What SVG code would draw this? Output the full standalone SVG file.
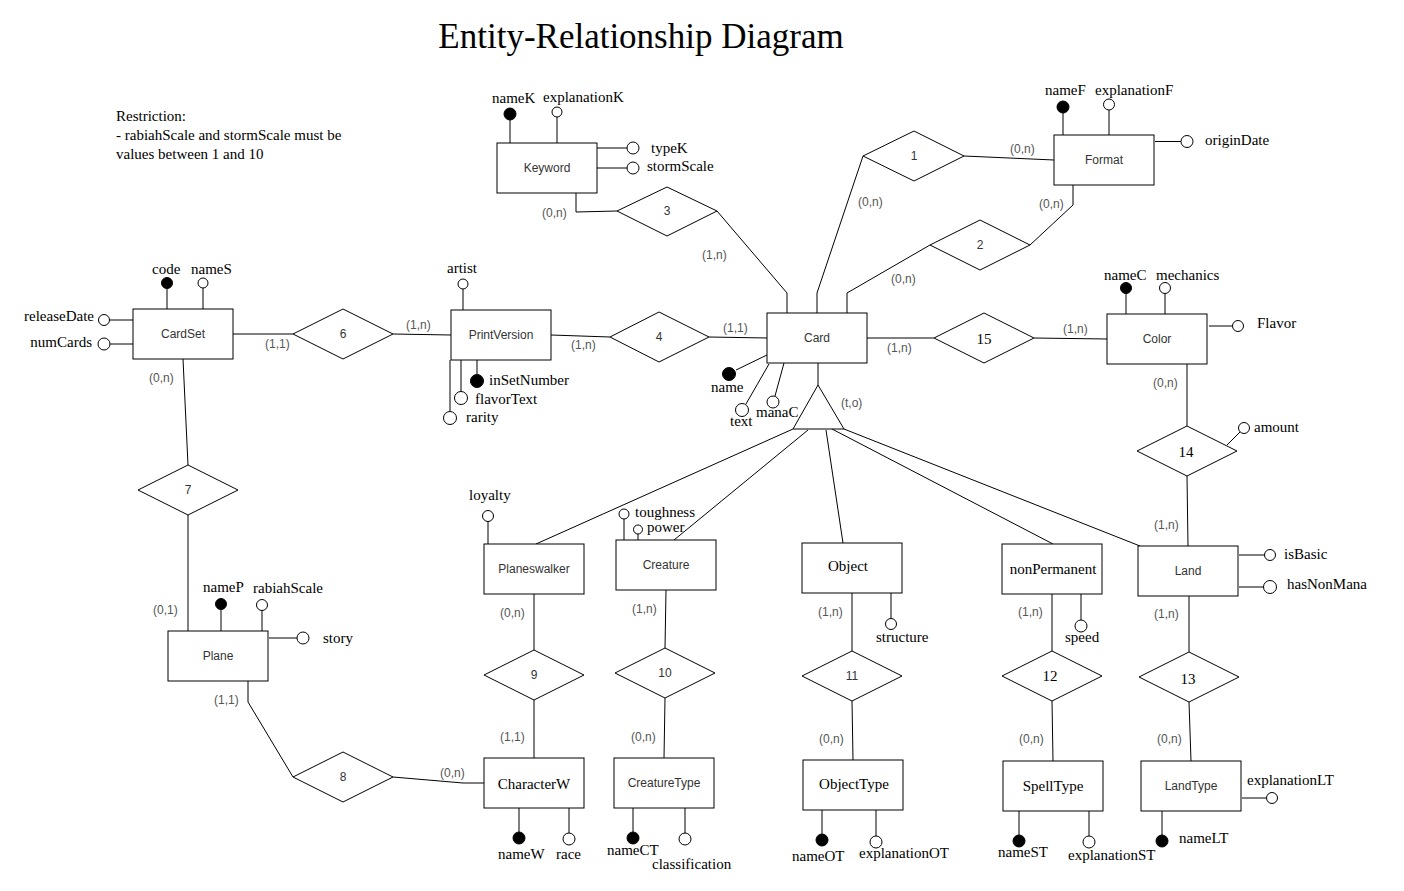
<svg xmlns="http://www.w3.org/2000/svg" width="1404" height="891" viewBox="0 0 1404 891">
<style>
.ent{fill:#fff;stroke:#000;stroke-width:1}
.rel{fill:#fff;stroke:#000;stroke-width:1}
.ln{fill:none;stroke:#000;stroke-width:1}
.oa{fill:#fff;stroke:#000;stroke-width:1}
.ka{fill:#000;stroke:#000;stroke-width:1}
.sl{font-family:"Liberation Sans",Arial,sans-serif;font-size:12px;fill:#333;text-anchor:middle}
.sf{font-family:"Liberation Serif","Times New Roman",serif;font-size:15px;fill:#000;text-anchor:middle}
.cd{font-family:"Liberation Sans",Arial,sans-serif;font-size:12px;fill:#555}
.at{font-family:"Liberation Serif","Times New Roman",serif;font-size:15px;fill:#000}
.rn{font-family:"Liberation Serif","Times New Roman",serif;font-size:15px;fill:#000;text-anchor:middle}
</style>
<rect width="1404" height="891" fill="#fff"/>
<text x="641" y="48" font-family="'Liberation Serif','Times New Roman',serif" font-size="35" text-anchor="middle" fill="#000">Entity-Relationship Diagram</text>
<g id="restriction">
<text class="at" x="116" y="121">Restriction:</text>
<text class="at" x="116" y="140">- rabiahScale and stormScale must be</text>
<text class="at" x="116" y="159">values between 1 and 10</text>
</g>

<g id="connectors">
<path class="ln" d="M233,334 L293,334"/>
<path class="ln" d="M393,334 L451,335"/>
<path class="ln" d="M551,335 L610,337"/>
<path class="ln" d="M709,337 L767,338"/>
<path class="ln" d="M867,338 L934,338"/>
<path class="ln" d="M1034,338 L1107,339"/>
<path class="ln" d="M576,193 L576,212 L617,211"/>
<path class="ln" d="M717,211 L787,293 L787,313"/>
<path class="ln" d="M817,313 L817,293 L863,156"/>
<path class="ln" d="M964,156 L1054,160"/>
<path class="ln" d="M1073,185 L1073,205 L1030,245"/>
<path class="ln" d="M930,245 L847,293 L847,313"/>
<path class="ln" d="M183,359 L188,465"/>
<path class="ln" d="M188,515 L188,631"/>
<path class="ln" d="M248,681 L248,702 L293,777"/>
<path class="ln" d="M393,777 L463,783 L484,783"/>
<path class="ln" d="M1187,364 L1187,426"/>
<path class="ln" d="M1187,476 L1188,546"/>
<path class="ln" d="M1189,596 L1189,652"/>
<path class="ln" d="M1189,702 L1191,761"/>
<path class="ln" d="M534,594 L534,650"/>
<path class="ln" d="M534,700 L534,758"/>
<path class="ln" d="M666,590 L665,648"/>
<path class="ln" d="M665,698 L664,758"/>
<path class="ln" d="M852,593 L852,651"/>
<path class="ln" d="M852,701 L853,760"/>
<path class="ln" d="M1052,594 L1052,651"/>
<path class="ln" d="M1052,701 L1053,761"/>
<path class="ln" d="M818,363 L818,385"/>
<path class="ln" d="M793,429 L536,544"/>
<path class="ln" d="M808,430 L674,540"/>
<path class="ln" d="M826,430 L843,543"/>
<path class="ln" d="M832,429 L1053,544"/>
<path class="ln" d="M844,429 L1140,546"/>
<text class="cd" x="265" y="348">(1,1)</text>
<text class="cd" x="149" y="382">(0,n)</text>
<text class="cd" x="406" y="329">(1,n)</text>
<text class="cd" x="571" y="349">(1,n)</text>
<text class="cd" x="723" y="332">(1,1)</text>
<text class="cd" x="542" y="217">(0,n)</text>
<text class="cd" x="702" y="259">(1,n)</text>
<text class="cd" x="858" y="206">(0,n)</text>
<text class="cd" x="1010" y="153">(0,n)</text>
<text class="cd" x="1039" y="208">(0,n)</text>
<text class="cd" x="891" y="283">(0,n)</text>
<text class="cd" x="887" y="352">(1,n)</text>
<text class="cd" x="1063" y="333">(1,n)</text>
<text class="cd" x="1153" y="387">(0,n)</text>
<text class="cd" x="1154" y="529">(1,n)</text>
<text class="cd" x="1154" y="618">(1,n)</text>
<text class="cd" x="1157" y="743">(0,n)</text>
<text class="cd" x="153" y="614">(0,1)</text>
<text class="cd" x="214" y="704">(1,1)</text>
<text class="cd" x="440" y="777">(0,n)</text>
<text class="cd" x="500" y="617">(0,n)</text>
<text class="cd" x="500" y="741">(1,1)</text>
<text class="cd" x="632" y="613">(1,n)</text>
<text class="cd" x="631" y="741">(0,n)</text>
<text class="cd" x="818" y="616">(1,n)</text>
<text class="cd" x="819" y="743">(0,n)</text>
<text class="cd" x="1018" y="616">(1,n)</text>
<text class="cd" x="1019" y="743">(0,n)</text>
<text class="cd" x="841" y="407">(t,o)</text>
</g>

<g id="isa">
<polygon class="rel" points="818,385 793,429 844,429"/>
</g>

<g id="r1"><polygon class="rel" points="863,156 914,131 964,156 914,181"/><text class="sl" x="914" y="160">1</text></g>
<g id="r2"><polygon class="rel" points="930,245 980,220 1030,245 980,270"/><text class="sl" x="980" y="249">2</text></g>
<g id="r3"><polygon class="rel" points="617,211 667,187 717,211 667,236"/><text class="sl" x="667" y="215">3</text></g>
<g id="r4"><polygon class="rel" points="610,337 659,312 709,337 659,362"/><text class="sl" x="659" y="341">4</text></g>
<g id="r6"><polygon class="rel" points="293,334 343,309 393,334 343,359"/><text class="sl" x="343" y="338">6</text></g>
<g id="r7"><polygon class="rel" points="138,490 188,465 238,490 188,515"/><text class="sl" x="188" y="494">7</text></g>
<g id="r8"><polygon class="rel" points="293,777 343,752 393,777 343,802"/><text class="sl" x="343" y="781">8</text></g>
<g id="r9"><polygon class="rel" points="484,675 534,650 584,675 534,700"/><text class="sl" x="534" y="679">9</text></g>
<g id="r10"><polygon class="rel" points="615,673 665,648 715,673 665,698"/><text class="sl" x="665" y="677">10</text></g>
<g id="r11"><polygon class="rel" points="802,676 852,651 902,676 852,701"/><text class="sl" x="852" y="680">11</text></g>
<g id="r12"><polygon class="rel" points="1002,676 1052,651 1102,676 1052,701"/><text class="rn" x="1050" y="681">12</text></g>
<g id="r13"><polygon class="rel" points="1139,677 1189,652 1239,677 1189,702"/><text class="rn" x="1188" y="684">13</text></g>
<g id="r14"><polygon class="rel" points="1137,451 1187,426 1237,451 1187,476"/>
<path class="ln" d="M1227,445 L1240,432"/><circle class="oa" cx="1244" cy="428" r="5.5"/>
<text class="rn" x="1186" y="457">14</text><text class="at" x="1254" y="432">amount</text></g>
<g id="r15"><polygon class="rel" points="934,338 984,313 1034,338 984,363"/><text class="rn" x="984" y="344">15</text></g>

<g id="Keyword">
<rect class="ent" x="497" y="143" width="100" height="50"/><text class="sl" x="547" y="172">Keyword</text>
<path class="ln" d="M510,120 V143 M557,117 V143 M597,148 H627 M597,168 H627"/>
<circle class="ka" cx="510" cy="114" r="6"/><circle class="oa" cx="557" cy="112" r="5"/>
<circle class="oa" cx="633" cy="148" r="6"/><circle class="oa" cx="633" cy="168" r="6"/>
<text class="at" x="492" y="103">nameK</text><text class="at" x="543" y="102">explanationK</text>
<text class="at" x="651" y="153">typeK</text><text class="at" x="647" y="171">stormScale</text>
</g>

<g id="Format">
<rect class="ent" x="1054" y="135" width="100" height="50"/><text class="sl" x="1104" y="164">Format</text>
<path class="ln" d="M1063,113 V135 M1109,110 V135 M1155,141.5 H1181"/>
<circle class="ka" cx="1063" cy="107" r="6"/><circle class="oa" cx="1109" cy="104.5" r="5.5"/>
<circle class="oa" cx="1187" cy="141.5" r="6"/>
<text class="at" x="1045" y="95">nameF</text><text class="at" x="1095" y="95">explanationF</text>
<text class="at" x="1205" y="145">originDate</text>
</g>

<g id="Card">
<rect class="ent" x="767" y="313" width="100" height="50"/><text class="sl" x="817" y="342">Card</text>
<path class="ln" d="M736,370 L767,355 M746,404 L769,364 M775,396 L784,363"/>
<circle class="ka" cx="729" cy="374" r="6.5"/><circle class="oa" cx="742" cy="410" r="6.5"/><circle class="oa" cx="773" cy="402" r="6"/>
<text class="at" x="711" y="392">name</text><text class="at" x="730" y="426">text</text><text class="at" x="756" y="417">manaC</text>
</g>

<g id="Color">
<rect class="ent" x="1107" y="314" width="100" height="50"/><text class="sl" x="1157" y="343">Color</text>
<path class="ln" d="M1126,293 V314 M1165,293 V314 M1209,326 H1233"/>
<circle class="ka" cx="1126" cy="288" r="5.5"/><circle class="oa" cx="1165" cy="288" r="5.5"/><circle class="oa" cx="1238" cy="326" r="5.5"/>
<text class="at" x="1104" y="280">nameC</text><text class="at" x="1156" y="280">mechanics</text>
<text class="at" x="1257" y="328">Flavor</text>
</g>

<g id="Land">
<rect class="ent" x="1138" y="546" width="100" height="50"/><text class="sl" x="1188" y="575">Land</text>
<path class="ln" d="M1239,555 H1265 M1239,587 H1264"/>
<circle class="oa" cx="1270" cy="555" r="5.5"/><circle class="oa" cx="1270" cy="587" r="6.5"/>
<text class="at" x="1284" y="559">isBasic</text><text class="at" x="1287" y="589">hasNonMana</text>
</g>

<g id="LandType">
<rect class="ent" x="1141" y="761" width="100" height="50"/><text class="sl" x="1191" y="790">LandType</text>
<path class="ln" d="M1242,798 H1266 M1162,811 V835"/>
<circle class="oa" cx="1272" cy="798" r="5.5"/><circle class="ka" cx="1162" cy="841" r="6"/>
<text class="at" x="1247" y="785">explanationLT</text><text class="at" x="1179" y="843">nameLT</text>
</g>

<g id="SpellType">
<rect class="ent" x="1003" y="761" width="100" height="50"/><text class="sf" x="1053" y="791">SpellType</text>
<path class="ln" d="M1019,811 V835 M1089,811 V836"/>
<circle class="ka" cx="1019" cy="841" r="6"/><circle class="oa" cx="1089" cy="842" r="6"/>
<text class="at" x="998" y="857">nameST</text><text class="at" x="1068" y="860">explanationST</text>
</g>

<g id="nonPermanent">
<rect class="ent" x="1002" y="544" width="100" height="50"/><text class="sf" x="1053" y="574">nonPermanent</text>
<path class="ln" d="M1081,594 V620"/><circle class="oa" cx="1081" cy="626" r="6"/>
<text class="at" x="1065" y="642">speed</text>
</g>

<g id="ObjectType">
<rect class="ent" x="803" y="760" width="100" height="50"/><text class="sf" x="854" y="789">ObjectType</text>
<path class="ln" d="M822,810 V834 M876,810 V836"/>
<circle class="ka" cx="822" cy="840" r="6"/><circle class="oa" cx="876" cy="842" r="6"/>
<text class="at" x="792" y="861">nameOT</text><text class="at" x="859" y="858">explanationOT</text>
</g>

<g id="Object">
<rect class="ent" x="802" y="543" width="100" height="50"/><text class="sf" x="848" y="571">Object</text>
<path class="ln" d="M891,593 V618.5"/><circle class="oa" cx="891" cy="624" r="5.5"/>
<text class="at" x="876" y="642">structure</text>
</g>

<g id="CreatureType">
<rect class="ent" x="614" y="758" width="100" height="50"/><text class="sl" x="664" y="787">CreatureType</text>
<path class="ln" d="M633,808 V832 M685,808 V833"/>
<circle class="ka" cx="633" cy="838" r="6"/><circle class="oa" cx="685" cy="839" r="6"/>
<text class="at" x="607" y="855">nameCT</text><text class="at" x="652" y="869">classification</text>
</g>

<g id="Creature">
<rect class="ent" x="616" y="540" width="100" height="50"/><text class="sl" x="666" y="569">Creature</text>
<path class="ln" d="M624,519 V540 M638,534 V540"/>
<circle class="oa" cx="624" cy="514" r="5"/><circle class="oa" cx="638" cy="529.5" r="4.5"/>
<text class="at" x="635" y="517">toughness</text><text class="at" x="647" y="532">power</text>
</g>

<g id="CharacterW">
<rect class="ent" x="484" y="758" width="100" height="50"/><text class="sf" x="534" y="789">CharacterW</text>
<path class="ln" d="M519,808 V832 M569,808 V833"/>
<circle class="ka" cx="519" cy="838" r="6"/><circle class="oa" cx="569" cy="839" r="6"/>
<text class="at" x="498" y="859">nameW</text><text class="at" x="556" y="859">race</text>
</g>

<g id="Planeswalker">
<rect class="ent" x="484" y="544" width="100" height="50"/><text class="sl" x="534" y="573">Planeswalker</text>
<path class="ln" d="M488,521.5 V544"/><circle class="oa" cx="488" cy="516" r="5.5"/>
<text class="at" x="469" y="500">loyalty</text>
</g>

<g id="Plane">
<rect class="ent" x="168" y="631" width="100" height="50"/><text class="sl" x="218" y="660">Plane</text>
<path class="ln" d="M221,610 V631 M262,610.5 V631 M269,638 H297"/>
<circle class="ka" cx="221" cy="604" r="5.5"/><circle class="oa" cx="262" cy="605" r="5.5"/><circle class="oa" cx="303" cy="638" r="6"/>
<text class="at" x="203" y="592">nameP</text><text class="at" x="253" y="593">rabiahScale</text>
<text class="at" x="323" y="643">story</text>
</g>

<g id="CardSet">
<rect class="ent" x="133" y="309" width="100" height="50"/><text class="sl" x="183" y="338">CardSet</text>
<path class="ln" d="M167,289 V309 M203,288 V309 M110,320 H133 M110,344 H133"/>
<circle class="ka" cx="167" cy="283" r="5.5"/><circle class="oa" cx="203" cy="283" r="5"/>
<circle class="oa" cx="104" cy="320" r="5.5"/><circle class="oa" cx="104" cy="344" r="6"/>
<text class="at" x="152" y="274">code</text><text class="at" x="191" y="274">nameS</text>
<text class="at" x="94" y="321" text-anchor="end">releaseDate</text><text class="at" x="92" y="347" text-anchor="end">numCards</text>
</g>

<g id="PrintVersion">
<rect class="ent" x="451" y="310" width="100" height="50"/><text class="sl" x="501" y="339">PrintVersion</text>
<path class="ln" d="M463,289 V310 M477,360 V374 M461,360 V392 M450,360 V411"/>
<circle class="oa" cx="463" cy="284" r="5"/><circle class="ka" cx="477" cy="381" r="6.5"/>
<circle class="oa" cx="461" cy="398" r="6.5"/><circle class="oa" cx="450" cy="418" r="6.5"/>
<text class="at" x="447" y="273">artist</text><text class="at" x="489" y="385">inSetNumber</text>
<text class="at" x="475" y="404">flavorText</text><text class="at" x="466" y="422">rarity</text>
</g>
</svg>
